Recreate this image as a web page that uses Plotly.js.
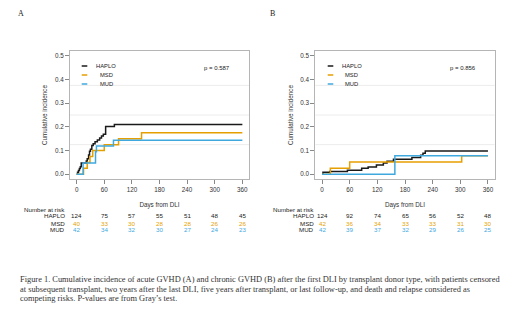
<!DOCTYPE html>
<html>
<head>
<meta charset="utf-8">
<script src="https://cdn.plot.ly/plotly-3.0.1.min.js"></script>
<style>html,body{margin:0;padding:0;background:#fff;}#chart{width:520px;height:318px;}</style>
</head>
<body>
<div id="chart"></div>
<script>
// ---------- data ----------
const groups = ["HAPLO", "MSD", "MUD"];
const dayTicks = [0, 60, 120, 180, 240, 300, 360];
const ciTicks = [0, 0.1, 0.2, 0.3, 0.4, 0.5];

// Panel A: acute GVHD
const haploA_days = [0, 2, 4, 6, 8, 10, 21, 23, 26, 28, 30, 33, 36, 40, 45, 50, 54, 58, 63, 82, 360];
const haploA_ci   = [0, 0.008, 0.016, 0.024, 0.032, 0.048, 0.056, 0.065, 0.081, 0.097, 0.105, 0.121, 0.129, 0.137, 0.145, 0.153, 0.161, 0.169, 0.202, 0.210, 0.210];
const msdA_days = [0, 15, 23, 29, 35, 60, 91, 141, 360];
const msdA_ci   = [0, 0.025, 0.05, 0.075, 0.10, 0.125, 0.15, 0.175, 0.175];
const mudA_days = [0, 14, 41, 43, 80, 360];
const mudA_ci   = [0, 0.048, 0.095, 0.119, 0.143, 0.143];

// Panel B: chronic GVHD
const haploB_days = [0, 2, 17, 55, 86, 100, 118, 133, 141, 155, 195, 214, 219, 224, 360];
const haploB_ci   = [0, 0.008, 0.012, 0.017, 0.025, 0.031, 0.039, 0.047, 0.055, 0.063, 0.071, 0.080, 0.089, 0.098, 0.098];
const msdB_days = [0, 18, 60, 303, 360];
const msdB_ci   = [0, 0.025, 0.052, 0.078, 0.078];
const mudB_days = [0, 158, 360];
const mudB_ci   = [0, 0.078, 0.078];

// Number at risk
const riskA_haplo = [124, 75, 57, 55, 51, 48, 45];
const riskA_msd   = [40, 33, 30, 28, 28, 26, 26];
const riskA_mud   = [42, 34, 32, 30, 27, 24, 23];
const riskB_haplo = [124, 92, 74, 65, 56, 52, 48];
const riskB_msd   = [42, 36, 34, 33, 33, 31, 30];
const riskB_mud   = [42, 39, 37, 32, 29, 26, 25];

const pA = "p = 0.587";
const pB = "p = 0.856";
const captionLines = [
  "Figure 1. Cumulative incidence of acute GVHD (A) and chronic GVHD (B) after the first DLI by transplant donor type, with patients censored",
  "at subsequent transplant, two years after the last DLI, five years after transplant, or last follow-up, and death and relapse considered as",
  "competing risks. P-values are from Gray’s test."
];

// ---------- styles ----------
const colors = ["#1a1a1a", "#E69F00", "#3FA9DF"];
const sans = "Liberation Sans, Arial, sans-serif";
const W = 520, H = 318;
const px = v => v / W;
const py = v => 1 - v / H;

function stepTrace(x, y, i, xa, ya) {
  return {x: x, y: y, type: "scatter", mode: "lines", line: {shape: "hv", color: colors[i], width: 1.5},
          xaxis: xa, yaxis: ya, showlegend: false, hoverinfo: "skip", name: groups[i]};
}

const traces = [
  stepTrace(haploA_days, haploA_ci, 0, "x", "y"),
  stepTrace(msdA_days, msdA_ci, 1, "x", "y"),
  stepTrace(mudA_days, mudA_ci, 2, "x", "y"),
  stepTrace(haploB_days, haploB_ci, 0, "x2", "y2"),
  stepTrace(msdB_days, msdB_ci, 1, "x2", "y2"),
  stepTrace(mudB_days, mudB_ci, 2, "x2", "y2")
];

function xAxis(domain, anchor) {
  return {domain: domain, anchor: anchor, range: [-14.4, 374.4], tickvals: dayTicks,
          ticks: "outside", ticklen: 4, tickcolor: "#888", showgrid: false, zeroline: false,
          showline: true, mirror: true, linecolor: "#b5b5b5", linewidth: 1,
          tickfont: {family: sans, size: 6.3, color: "#333"},
          title: {text: "Days from DLI", font: {family: sans, size: 6.3, color: "#333"}, standoff: 11}};
}
function yAxis(domain, anchor) {
  return {domain: domain, anchor: anchor, range: [-0.02, 0.52], tickvals: ciTicks, tickformat: ".1f",
          ticks: "outside", ticklen: 4, tickcolor: "#888", showgrid: false, zeroline: false,
          showline: true, mirror: true, linecolor: "#b5b5b5", linewidth: 1,
          tickfont: {family: sans, size: 6.3, color: "#333"},
          title: {text: "Cumulative incidence", font: {family: sans, size: 6.3, color: "#333"}, standoff: 6}};
}

const yDom = [py(179), py(51)];
const layout = {
  width: W, height: H, margin: {l: 0, r: 0, t: 0, b: 0},
  paper_bgcolor: "#fff", plot_bgcolor: "#fff", showlegend: false,
  font: {family: sans, size: 6, color: "#333"},
  xaxis: xAxis([px(70), px(249)], "y"),
  yaxis: yAxis(yDom, "x"),
  xaxis2: xAxis([px(315.4), px(494.6)], "y2"),
  yaxis2: yAxis(yDom, "x2"),
  shapes: [], annotations: []
};

// faint horizontal reference lines
[0.125, 0.25, 0.375].forEach(v => {
  layout.shapes.push({type: "line", xref: "x domain", yref: "y", x0: 0, x1: 1, y0: v, y1: v, line: {color: "#ececec", width: 1}, layer: "below"});
  layout.shapes.push({type: "line", xref: "x2 domain", yref: "y2", x0: 0, x1: 1, y0: v, y1: v, line: {color: "#ececec", width: 1}, layer: "below"});
});

// in-panel legends
const legRows = [66, 75, 84];
[[81.7, 87.3, 106], [327.7, 333.3, 351.7]].forEach(pos => {
  groups.forEach((g, i) => {
    layout.shapes.push({type: "line", xref: "paper", yref: "paper", x0: px(pos[0]), x1: px(pos[1]),
                        y0: py(legRows[i]), y1: py(legRows[i]), line: {color: colors[i], width: 1.5}});
    layout.annotations.push({xref: "paper", yref: "paper", x: px(pos[2]), y: py(legRows[i]), xanchor: "center", yanchor: "middle",
                             text: g, showarrow: false, font: {family: sans, size: 5.8, color: "#222"}});
  });
});

// p-values
layout.annotations.push({xref: "paper", yref: "paper", x: px(217), y: py(67.7), text: pA, showarrow: false, xanchor: "center", yanchor: "middle", font: {family: sans, size: 6, color: "#222"}});
layout.annotations.push({xref: "paper", yref: "paper", x: px(462.5), y: py(68), text: pB, showarrow: false, xanchor: "center", yanchor: "middle", font: {family: sans, size: 6, color: "#222"}});

// panel letters
layout.annotations.push({xref: "paper", yref: "paper", x: px(20.7), y: py(14), text: "A", showarrow: false, xanchor: "center", yanchor: "middle", font: {family: "Liberation Serif, serif", size: 8, color: "#222"}});
layout.annotations.push({xref: "paper", yref: "paper", x: px(272.7), y: py(14), text: "B", showarrow: false, xanchor: "center", yanchor: "middle", font: {family: "Liberation Serif, serif", size: 8, color: "#222"}});

// number at risk tables
const riskRows = [215.7, 223, 230];
function riskTable(xref, labelRight, rows) {
  layout.annotations.push({xref: "paper", yref: "paper", x: px(labelRight), y: py(209.3), text: "Number at risk", showarrow: false, xanchor: "right", yanchor: "middle", font: {family: sans, size: 6.2, color: "#222"}});
  rows.forEach((vals, i) => {
    layout.annotations.push({xref: "paper", yref: "paper", x: px(labelRight), y: py(riskRows[i]), text: groups[i], showarrow: false, xanchor: "right", yanchor: "middle", font: {family: sans, size: 6.2, color: "#222"}});
    vals.forEach((v, j) => {
      layout.annotations.push({xref: xref, yref: "paper", x: dayTicks[j], y: py(riskRows[i]), text: String(v), showarrow: false, xanchor: "center", yanchor: "middle",
                               font: {family: sans, size: 6.2, color: i === 0 ? "#222" : colors[i]}});
    });
  });
}
riskTable("x", 67, [riskA_haplo, riskA_msd, riskA_mud]);
riskTable("x2", 316, [riskB_haplo, riskB_msd, riskB_mud]);

// caption, one annotation per line
const captionY = [279, 289, 298.5];
captionLines.forEach((t, i) => {
  layout.annotations.push({xref: "paper", yref: "paper", x: px(18.3), y: py(captionY[i]), text: t, showarrow: false, xanchor: "left", yanchor: "middle", align: "left",
                           font: {family: "Liberation Serif, serif", size: 8.4, color: "#333"}});
});

Plotly.newPlot("chart", traces, layout, {staticPlot: true, displayModeBar: false});
</script>
</body>
</html>
